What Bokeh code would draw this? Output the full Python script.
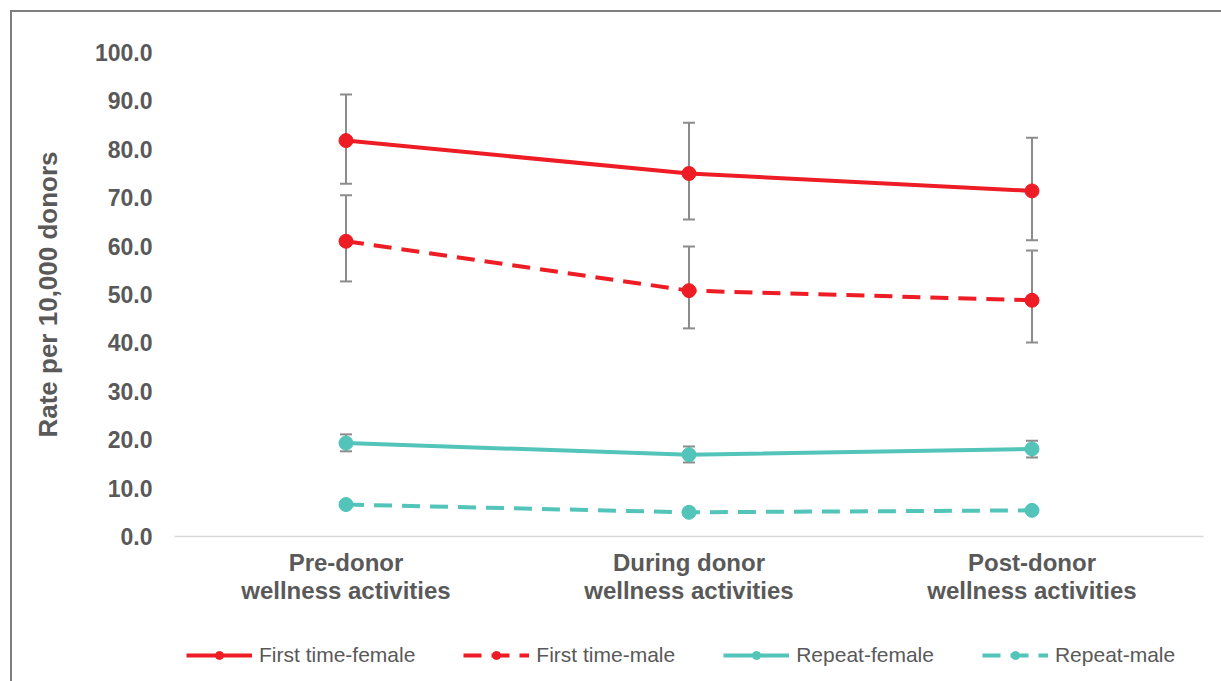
from bokeh.plotting import figure
from bokeh.layouts import column
from bokeh.models import (ColumnDataSource, Whisker, TeeHead, Legend, LegendItem,
                          FixedTicker, NumeralTickFormatter, LinearAxis)
from bokeh.embed import file_html
from bokeh.resources import INLINE

# Periods relative to donor wellness activities (two-line labels)
periods_line1 = ["Pre-donor", "During donor", "Post-donor"]
periods_line2 = ["wellness activities", "wellness activities", "wellness activities"]

# Rates per 10,000 donors with 95% confidence limits
first_female = [81.8, 75.0, 71.4]
first_female_lo = [72.9, 65.5, 61.2]
first_female_hi = [91.3, 85.5, 82.4]

first_male = [61.0, 50.8, 48.8]
first_male_lo = [52.7, 43.0, 40.1]
first_male_hi = [70.5, 59.9, 59.1]

repeat_female = [19.3, 16.9, 18.1]
repeat_female_lo = [17.6, 15.3, 16.3]
repeat_female_hi = [21.1, 18.6, 19.8]

repeat_male = [6.6, 5.0, 5.4]

y_ticks = [0, 10, 20, 30, 40, 50, 60, 70, 80, 90, 100]

RED = "#EE1C25"
TEAL = "#53C4B9"
GREY_TXT = "#595959"
ERR = "#8C8C8C"
DASH = "18 10"

xs = list(range(len(periods_line1)))

series = [
    ("First time-female", first_female, RED, "solid"),
    ("First time-male", first_male, RED, DASH),
    ("Repeat-female", repeat_female, TEAL, "solid"),
    ("Repeat-male", repeat_male, TEAL, DASH),
]

# ---- main chart ----
p = figure(width=1209, height=610, output_backend="svg", toolbar_location=None,
           x_range=(-0.5, 2.5), y_range=(0, 100))
p.min_border_left = 162
p.min_border_right = 18
p.min_border_top = 40
p.min_border_bottom = 86
p.outline_line_color = None
p.xgrid.grid_line_color = None
p.ygrid.grid_line_color = None

# Confidence interval whiskers, drawn beneath the series
for mid, lo, hi in [(first_female, first_female_lo, first_female_hi),
                    (first_male, first_male_lo, first_male_hi),
                    (repeat_female, repeat_female_lo, repeat_female_hi)]:
    src = ColumnDataSource(dict(x=xs, lo=lo, hi=hi))
    w = Whisker(source=src, base="x", lower="lo", upper="hi",
                line_color=ERR, line_width=2,
                upper_head=TeeHead(size=12, line_color=ERR, line_width=2),
                lower_head=TeeHead(size=12, line_color=ERR, line_width=2),
                level="underlay")
    p.add_layout(w)

for name, vals, color, dash in series:
    src = ColumnDataSource(dict(x=xs, y=vals))
    p.line("x", "y", source=src, line_color=color, line_width=4, line_dash=dash)
    p.scatter("x", "y", source=src, size=14, fill_color=color, line_color=color)

# X axes: first and second line of each period label
def style_x(ax, labels, standoff, line_color):
    ax.ticker = FixedTicker(ticks=xs)
    ax.major_label_overrides = {i: lab for i, lab in enumerate(labels)}
    ax.major_label_text_font = "Liberation Sans"
    ax.major_label_text_font_style = "bold"
    ax.major_label_text_font_size = "24px"
    ax.major_label_text_color = GREY_TXT
    ax.major_label_standoff = standoff
    ax.axis_line_color = line_color
    ax.axis_line_width = 1.5
    ax.major_tick_line_color = None
    ax.minor_tick_line_color = None

style_x(p.xaxis[0], periods_line1, 6, "#D9D9D9")
x2 = LinearAxis()
style_x(x2, periods_line2, -8, None)
p.add_layout(x2, "below")

p.yaxis.ticker = FixedTicker(ticks=y_ticks)
p.yaxis.formatter = NumeralTickFormatter(format="0.0")
p.yaxis.axis_line_color = None
p.yaxis.major_tick_line_color = None
p.yaxis.minor_tick_line_color = None
p.yaxis.major_label_text_font = "Liberation Sans"
p.yaxis.major_label_text_font_style = "bold"
p.yaxis.major_label_text_font_size = "23px"
p.yaxis.major_label_text_color = GREY_TXT
p.yaxis.major_label_standoff = 16
p.yaxis.axis_label = "Rate per 10,000 donors"
p.yaxis.axis_label_text_font = "Liberation Sans"
p.yaxis.axis_label_text_font_style = "bold"
p.yaxis.axis_label_text_font_size = "26px"
p.yaxis.axis_label_text_color = GREY_TXT
p.yaxis.axis_label_standoff = 29

# ---- legend strip ----
lg = figure(width=1209, height=59, output_backend="svg", toolbar_location=None,
            x_range=(0, 1), y_range=(0, 1), x_axis_type=None, y_axis_type=None,
            min_border=0)
lg.outline_line_color = None
lg.xgrid.grid_line_color = None
lg.ygrid.grid_line_color = None

items = []
for name, vals, color, dash in series:
    # a single off-range point so the legend glyphs have styles to draw with
    hidden = ColumnDataSource(dict(x=[-10], y=[-10]))
    ln = lg.line("x", "y", source=hidden, line_color=color, line_width=4, line_dash=dash)
    sc = lg.scatter("x", "y", source=hidden, size=11, fill_color=color, line_color=color)
    items.append(LegendItem(label=name, renderers=[ln, sc]))

legend = Legend(items=items, orientation="horizontal", location=(12, 14),
                glyph_width=66, glyph_height=20, label_standoff=7, spacing=48,
                label_text_font="Liberation Sans", label_text_font_size="21px",
                label_text_color=GREY_TXT, border_line_color=None,
                background_fill_alpha=0, padding=0, margin=0)
lg.add_layout(legend, "center")

layout = column(p, lg, spacing=0)
# Outer chart border on the left and top edges
layout.styles = {"border-left": "2px solid #7f7f7f", "border-top": "2px solid #7f7f7f",
                 "margin-left": "10px", "margin-top": "10px"}

open("out.html", "w").write(file_html(layout, INLINE))
